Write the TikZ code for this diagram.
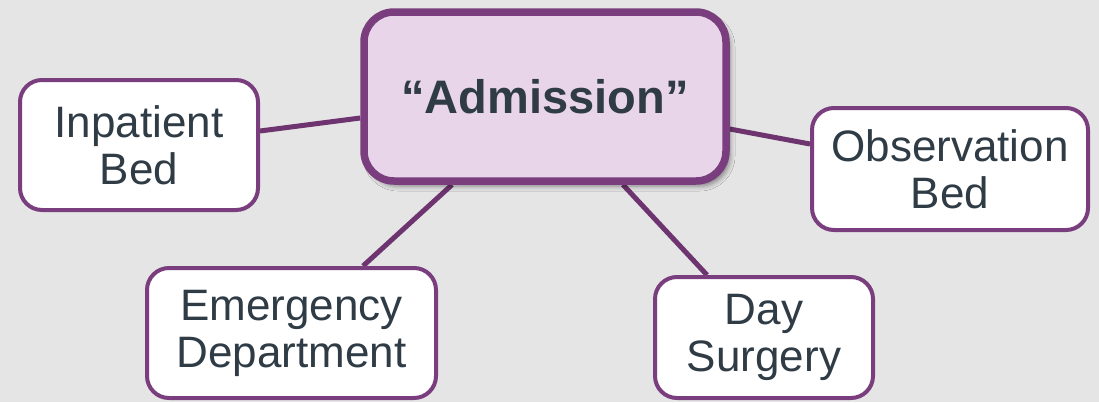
\documentclass[tikz,border=0pt]{standalone}
\usepackage{fontspec}
\setmainfont{Liberation Sans}
\usetikzlibrary{backgrounds,shadows.blur}
\definecolor{bgcol}{HTML}{E5E5E5}
\definecolor{hubfill}{HTML}{E8D5E9}
\definecolor{plum}{HTML}{7A3E7E}
\definecolor{linkcol}{HTML}{6E3470}
\definecolor{inkcol}{HTML}{2F3B45}
\tikzset{
  hub/.style={draw=plum, line width=7.5pt, fill=hubfill, rounded corners=30pt,
    align=center, text=inkcol, inner sep=0pt,
    font=\fontsize{47}{52}\selectfont\bfseries,
    blur shadow={shadow xshift=4pt, shadow yshift=-5pt, shadow blur radius=5pt, shadow opacity=45}},
  leaf/.style={draw=plum, line width=4pt, fill=white, rounded corners=22pt,
    align=center, text=inkcol, inner sep=0pt,
    font=\fontsize{44}{47}\selectfont},
  link/.style={draw=linkcol, line width=5pt}
}
\begin{document}
\begin{tikzpicture}[x=1pt, y=-1pt]
  \useasboundingbox (0,0) rectangle (1099,402);
  \node[hub, minimum width=362pt, minimum height=169pt] (adm) at (545,96.5) {“Admission”};
  \node[leaf, minimum width=238pt, minimum height=130pt] (inp) at (139,145) {Inpatient\\Bed};
  \node[leaf, minimum width=276pt, minimum height=122pt] (obs) at (950,169) {Observation\\Bed};
  \node[leaf, minimum width=289pt, minimum height=130pt] (emd) at (291.5,333) {Emergency\\Department};
  \node[leaf, minimum width=218pt, minimum height=121pt] (day) at (764,337.5) {Day\\Surgery};
  \begin{scope}[on background layer]
    \fill[bgcol] (0,0) rectangle (1099,402);
    \draw[link] ([yshift=14pt]inp.east) -- ([yshift=-21.5pt]adm.west);
    \draw[link] ([yshift=-32.5pt]adm.east) -- ([yshift=25pt]obs.west);
    \draw[link] ([xshift=-93pt]adm.south) -- ([xshift=71.5pt]emd.north);
    \draw[link] ([xshift=78pt]adm.south) -- ([xshift=-57pt]day.north);
  \end{scope}
\end{tikzpicture}
\end{document}
